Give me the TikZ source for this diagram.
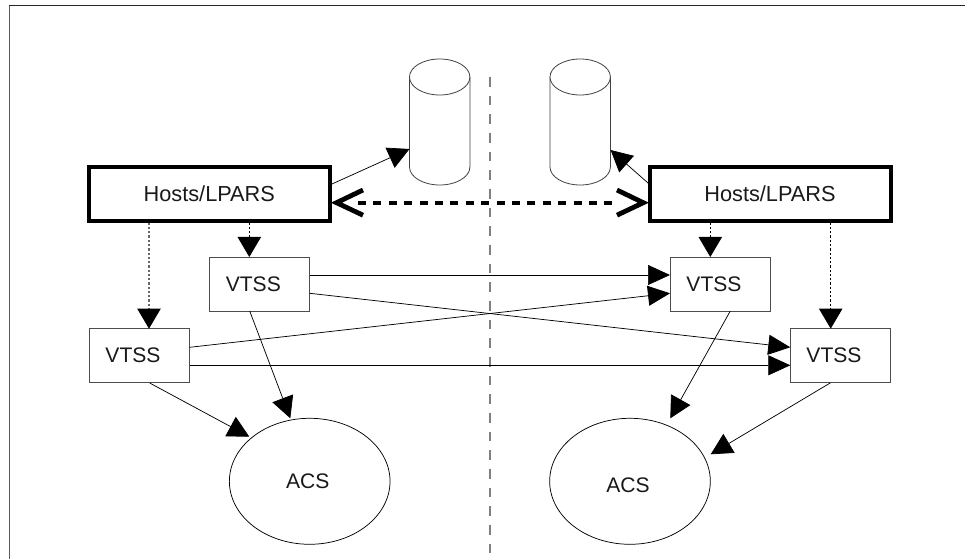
\documentclass[tikz,border=0pt]{standalone}
\usepackage{fontspec}
\setmainfont{Liberation Sans}
\usetikzlibrary{arrows.meta,shapes.geometric}
\tikzset{
  px/.style={x=0.75pt,y=-0.75pt},
  thinline/.style={line width=0.55pt,draw=black},
  tri/.style={-{Triangle[length=16pt,width=16.5pt,black]}},
  trivert/.style={-{Triangle[length=15pt,width=17.5pt,black]}},
  trihoriz/.style={-{Triangle[length=16.5pt,width=15pt,black]}},
  hostbox/.style={draw=black,line width=3pt,minimum width=180.6pt,minimum height=40pt,inner sep=0pt},
  vtssbox/.style={draw=black!70,line width=0.7pt,fill=white,minimum width=75.3pt,minimum height=40.5pt,inner sep=0pt},
  acs/.style={draw=black,line width=0.55pt,minimum width=120.5pt,minimum height=94.5pt,ellipse,inner sep=0pt},
  hostlbl/.style={inner sep=0pt,font=\fontsize{16.3pt}{18pt}\selectfont,text=black!90},
  lbl/.style={inner sep=0pt,font=\fontsize{15.8pt}{18pt}\selectfont,text=black!90},
  cyl/.style={draw=black!75,line width=0.6pt,fill=white},
  divider/.style={draw=black!50,line width=1pt,dash pattern=on 7.2pt off 6.8pt},
  frameline/.style={draw=black!85,line width=0.9pt},
  sidelineframe/.style={draw=black!65,line width=1.1pt},
  dots/.style={line width=0.7pt,dash pattern=on 1.7pt off 1.5pt,draw=black},
  dotsgrey/.style={line width=0.8pt,dash pattern=on 1.7pt off 1.5pt,draw=black!60},
  bigbarb/.style={draw=black,line width=3.6pt,miter limit=10},
  bigdash/.style={draw=black,line width=3pt,dash pattern=on 6pt off 5.55pt},
}
\begin{document}
\begin{tikzpicture}[px]
\useasboundingbox (0,0) rectangle (965,559);
\draw[sidelineframe] (9.5,559) -- (9.5,5.3);
\draw[frameline] (9,5.3) -- (965,5.3);
\draw[divider] (490,77) -- (490,559);
% cylinders
\draw[cyl] (409.5,77) -- (409.5,167) arc[start angle=180,end angle=0,x radius=30.2,y radius=18] -- (469.9,77);
\draw[cyl] (439.7,77) ellipse[x radius=30.2,y radius=18];
\draw[cyl] (550,77) -- (550,167) arc[start angle=180,end angle=0,x radius=30.2,y radius=18] -- (610.4,77);
\draw[cyl] (580.2,77) ellipse[x radius=30.2,y radius=18];
\coordinate (cylL) at (409.5,149);
\coordinate (cylR) at (610.6,150);
% nodes
\node[hostbox] (h1) at (209.5,194) {};
\node[hostbox] (h2) at (770.3,194) {};
\node[hostlbl] at (209.3,193.7) {Hosts/LPARS};
\node[hostlbl] at (770,193.7) {Hosts/LPARS};
\node[vtssbox] (v1) at (259.5,284) {};
\node[vtssbox] (v2) at (139.3,355.7) {};
\node[vtssbox] (v3) at (720.2,284) {};
\node[vtssbox] (v4) at (840.5,355.7) {};
\node[lbl] at (253.3,284) {VTSS};
\node[lbl] at (133,355.7) {VTSS};
\node[lbl] at (714,284) {VTSS};
\node[lbl] at (834,355.7) {VTSS};
\node[acs] (a1) at (309.7,481.3) {};
\node[acs] (a2) at (630,481.3) {};
\node[lbl] at (307.7,481.7) {ACS};
\node[lbl] at (628,485.7) {ACS};
% big barbed link
\coordinate (bl) at (336.5,202.7);
\coordinate (blu) at (363,190);
\coordinate (bld) at (363,215.2);
\coordinate (br) at (643.3,202.7);
\coordinate (bru) at (617,190);
\coordinate (brd) at (617,215.2);
\coordinate (sl) at (358,202.7);
\coordinate (sr) at (616,202.7);
\draw[bigdash] (sl) -- (sr);
\draw[bigbarb] (blu) -- (bl) -- (bld);
\draw[bigbarb] (bru) -- (br) -- (brd);
% host to cylinder
\coordinate (h1c) at (332,184);
\coordinate (h2c) at (648,183);
\draw[thinline,tri] (h1c) -- (cylL);
\draw[thinline,tri] (h2c) -- (cylR);
% host to vtss
\draw[dots,trivert] (249.3,222.7) -- (249.3,257);
\draw[dotsgrey,trivert] (149,222.7) -- (149,328.7);
\draw[dots,trivert] (710.3,222.7) -- (710.3,257);
\draw[dots,trivert] (830.7,222.7) -- (830.7,328.7);
% vtss to vtss
\draw[thinline,trihoriz] (309.7,275) -- (670,275);
\draw[thinline,trihoriz] (309.7,293.3) -- (790.3,347.3);
\draw[thinline,trihoriz] (189.7,347.3) -- (670,293.3);
\draw[thinline,trihoriz] (189.7,365.3) -- (790.3,365.3);
% vtss to acs
\draw[thinline,tri] (249.7,311) -- (290.3,418.3);
\draw[thinline,tri] (149.7,383) -- (249.3,436.7);
\draw[thinline,tri] (730.3,311) -- (670.3,418.3);
\draw[thinline,tri] (830.5,382.8) -- (710.7,454.3);
\end{tikzpicture}
\end{document}
